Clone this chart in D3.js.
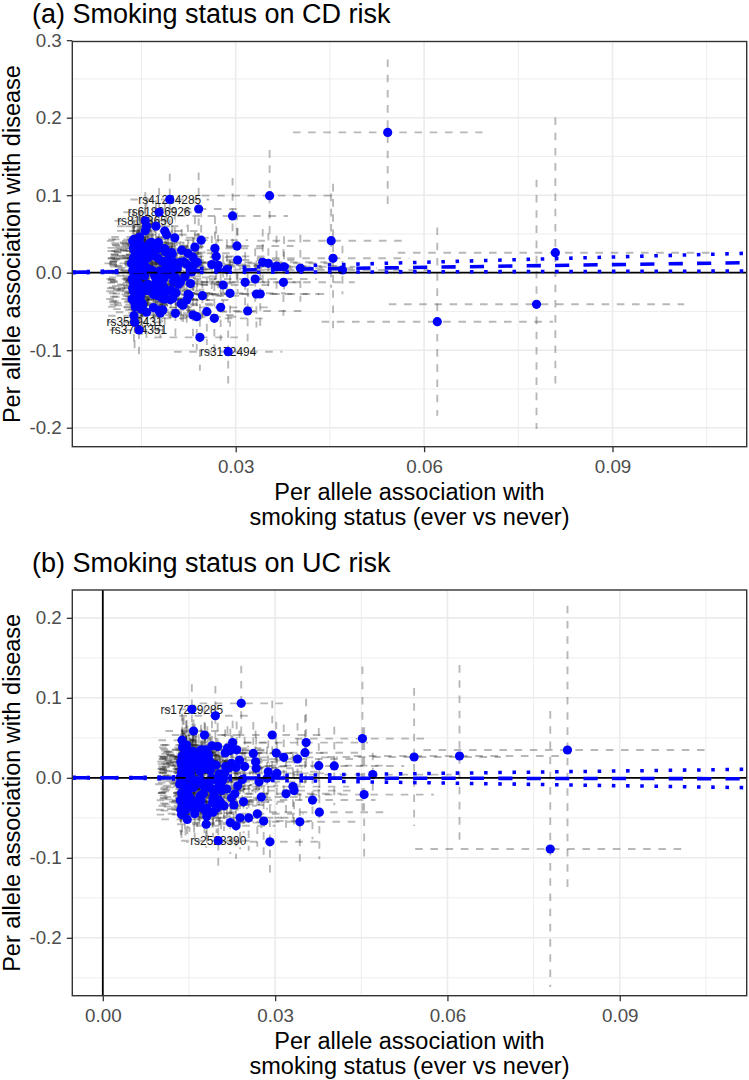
<!DOCTYPE html>
<html><head><meta charset="utf-8">
<script src="https://cdn.jsdelivr.net/npm/d3@7"></script>
<style>
body{margin:0;background:#fff}
svg{display:block}
text{font-family:"Liberation Sans",Arial,Helvetica,sans-serif}
</style>
</head><body>
<svg id="c" width="749" height="1080"></svg>
<script>
// ---------------- data (per-allele associations) ----------------
const smkBeta = [
0.0134,0.0152,0.0171,0.0139,0.0188,0.0145,0.0136,0.0203,0.0160,0.0139,
0.0176,0.0148,0.0141,0.0195,0.0163,0.0137,0.0182,0.0150,0.0214,0.0143,
0.0146,0.0168,0.0142,0.0207,0.0138,0.0185,0.0157,0.0135,0.0222,0.0149,
0.0173,0.0140,0.0192,0.0155,0.0144,0.0200,0.0166,0.0137,0.0179,0.0147,
0.0197,0.0155,0.0151,0.0156,0.0139,0.0162,0.0211,0.0158,0.0143,0.0186,
0.0153,0.0226,0.0136,0.0174,0.0159,0.0145,0.0193,0.0141,0.0217,0.0169,
0.0148,0.0181,0.0138,0.0205,0.0154,0.0143,0.0190,0.0135,0.0230,0.0161,
0.0150,0.0177,0.0140,0.0198,0.0152,0.0142,0.0178,0.0170,0.0137,0.0177,
0.0149,0.0184,0.0144,0.0219,0.0165,0.0139,0.0194,0.0156,0.0228,0.0147,
0.0172,0.0141,0.0213,0.0160,0.0146,0.0195,0.0187,0.0136,0.0201,0.0196,
0.0151,0.0201,0.0143,0.0180,0.0158,0.0224,0.0147,0.0204,0.0140,0.0183,
0.0163,0.0209,0.0145,0.0191,0.0153,0.0216,0.0142,0.0175,0.0232,0.0157,
0.0542,0.0452,0.0455,0.0470,0.0621,0.0779,0.0809,0.0354,0.0295,0.0403,
0.0377,0.0376,0.0365,0.0352,0.0343,0.0339,0.0333,0.0331,0.0319,0.0315,
0.0303,0.0302,0.0291,0.0288,0.0280,0.0276,0.0272,0.0269,0.0267,0.0266,
0.0254,0.0245,0.0247,0.0243,0.0241,0.0239,0.0238,0.0235,0.0232,0.0233,
0.0222,0.0224,0.0204,0.0177,0.0141,0.0138,0.0187,0.0158,0.0146,0.0262,0.0286,
0.0158,0.0183,0.0147,0.0169,0.0192,0.0140,0.0176,0.0161,0.0206,0.0153,
0.0187,0.0144,0.0171,0.0199,0.0150,0.0166,0.0138,0.0181,0.0156,0.0212,
0.0164,0.0145,0.0189,0.0173,0.0137,0.0159,0.0202,0.0149,0.0178,0.0167];

const smkSe = [
0.0022,0.0024,0.0026,0.0021,0.0027,0.0023,0.0022,0.0028,0.0025,0.0022,
0.0025,0.0023,0.0021,0.0027,0.0024,0.0022,0.0026,0.0023,0.0029,0.0022,
0.0024,0.0025,0.0022,0.0028,0.0021,0.0026,0.0024,0.0021,0.0030,0.0023,
0.0025,0.0022,0.0027,0.0023,0.0022,0.0028,0.0024,0.0021,0.0026,0.0023,
0.0027,0.0025,0.0023,0.0025,0.0022,0.0024,0.0029,0.0025,0.0022,0.0026,
0.0023,0.0031,0.0021,0.0025,0.0024,0.0022,0.0027,0.0022,0.0030,0.0024,
0.0023,0.0026,0.0021,0.0028,0.0024,0.0022,0.0027,0.0021,0.0032,0.0024,
0.0023,0.0025,0.0022,0.0028,0.0023,0.0022,0.0029,0.0025,0.0021,0.0029,
0.0023,0.0026,0.0022,0.0030,0.0024,0.0021,0.0027,0.0023,0.0034,0.0023,
0.0025,0.0022,0.0030,0.0024,0.0022,0.0032,0.0026,0.0021,0.0028,0.0032,
0.0023,0.0033,0.0022,0.0026,0.0024,0.0035,0.0023,0.0028,0.0021,0.0026,
0.0024,0.0033,0.0022,0.0027,0.0023,0.0031,0.0022,0.0025,0.0036,0.0023,
0.0077,0.0060,0.0062,0.0070,0.0094,0.0120,0.0128,0.0055,0.0045,0.0062,
0.0058,0.0058,0.0056,0.0054,0.0052,0.0052,0.0051,0.0050,0.0049,0.0048,
0.0046,0.0046,0.0045,0.0044,0.0043,0.0042,0.0042,0.0041,0.0041,0.0041,
0.0039,0.0038,0.0038,0.0037,0.0037,0.0037,0.0036,0.0036,0.0035,0.0036,
0.0034,0.0034,0.0031,0.0027,0.0022,0.0021,0.0029,0.0024,0.0022,0.0040,0.0044,
0.0025,0.0028,0.0023,0.0026,0.0030,0.0022,0.0027,0.0025,0.0032,0.0024,
0.0029,0.0023,0.0026,0.0031,0.0024,0.0026,0.0022,0.0028,0.0024,0.0033,
0.0025,0.0023,0.0029,0.0027,0.0021,0.0025,0.0031,0.0023,0.0027,0.0026];

const cdBeta = [
0.012,-0.021,0.034,-0.006,0.027,-0.041,0.003,0.045,-0.015,-0.064,
0.019,-0.031,0.008,-0.002,0.038,-0.024,0.015,-0.047,0.029,-0.011,
-0.0739,0.022,-0.036,0.005,0.043,-0.018,0.031,-0.008,0.011,-0.027,
0.060,-0.044,0.016,-0.004,0.024,-0.033,0.037,-0.013,0.002,0.046,
-0.022,0.009,-0.039,0.067,0.028,-0.016,0.013,-0.051,0.020,-0.007,
0.033,-0.029,0.041,-0.010,0.006,-0.037,0.025,-0.019,0.014,-0.045,
0.036,-0.003,0.018,-0.026,0.030,-0.012,0.049,-0.034,0.001,0.021,
-0.023,0.039,-0.009,0.026,-0.042,0.010,0.078,-0.017,0.032,-0.030,
0.017,-0.048,0.023,-0.005,0.035,-0.038,0.007,0.054,-0.014,0.028,
-0.025,0.012,-0.040,0.019,-0.001,0.0945,0.031,-0.020,0.004,-0.035,
0.026,-0.011,0.015,-0.052,0.022,-0.028,0.038,-0.006,0.011,-0.033,
0.029,-0.015,0.018,-0.024,0.008,-0.042,0.014,-0.010,0.020,-0.019,
0.181,0.0413,0.0186,0.0035,-0.0632,-0.0408,0.0258,0.0994,0.0732,0.0057,
0.0077,-0.0124,0.0086,0.0121,0.0134,-0.0275,-0.0275,-0.0081,-0.0494,-0.0124,
0.0164,0.0345,-0.0266,-0.1019,-0.0159,-0.0447,0.0095,0.021,0.0315,-0.0589,
-0.0503,0.042,-0.0297,-0.0834,0.0822,0.0135,-0.0568,0.033,-0.0546,0.010,
-0.0352,0.025,-0.0524,-0.0481,-0.0266,-0.0555,0.0538,0.060,0.043,0.0105,0.0040,
0.004,-0.013,0.022,-0.028,0.016,-0.009,0.031,-0.021,0.007,0.027,
-0.034,0.014,-0.004,0.024,-0.017,0.039,0.001,-0.026,0.018,-0.012,
0.029,-0.031,0.009,-0.007,0.019,-0.023,0.013,0.035,-0.015,0.003];

const cdSe = [
0.016,0.018,0.014,0.020,0.015,0.019,0.013,0.017,0.021,0.018,
0.014,0.016,0.019,0.013,0.017,0.020,0.015,0.018,0.014,0.016,
0.019,0.015,0.017,0.013,0.020,0.014,0.016,0.018,0.013,0.019,
0.017,0.015,0.014,0.018,0.021,0.013,0.016,0.019,0.015,0.017,
0.014,0.018,0.016,0.019,0.020,0.015,0.013,0.017,0.018,0.014,
0.016,0.013,0.019,0.015,0.017,0.020,0.014,0.018,0.013,0.016,
0.019,0.015,0.021,0.014,0.017,0.018,0.015,0.020,0.013,0.016,
0.018,0.014,0.019,0.015,0.017,0.020,0.016,0.015,0.018,0.014,
0.016,0.019,0.017,0.013,0.015,0.020,0.014,0.018,0.013,0.017,
0.015,0.019,0.014,0.016,0.018,0.017,0.015,0.020,0.014,0.013,
0.017,0.014,0.019,0.016,0.018,0.013,0.017,0.015,0.020,0.016,
0.018,0.014,0.019,0.015,0.017,0.014,0.020,0.016,0.013,0.018,
0.048,0.031,0.049,0.016,0.062,0.082,0.089,0.030,0.025,0.022,
0.020,0.022,0.020,0.020,0.022,0.024,0.022,0.020,0.025,0.020,
0.021,0.022,0.022,0.024,0.020,0.022,0.020,0.020,0.021,0.023,
0.022,0.020,0.020,0.022,0.024,0.019,0.022,0.020,0.021,0.018,
0.020,0.019,0.020,0.019,0.017,0.018,0.019,0.018,0.017,0.019,0.020,
0.015,0.017,0.014,0.016,0.018,0.015,0.017,0.016,0.019,0.015,
0.018,0.014,0.016,0.019,0.015,0.017,0.014,0.018,0.015,0.019,
0.016,0.014,0.018,0.017,0.013,0.016,0.019,0.015,0.017,0.016];

const ucBeta = [
-0.008,0.017,-0.029,0.024,-0.013,0.036,-0.040,0.005,0.028,-0.019,
0.011,-0.033,0.041,-0.002,0.020,-0.046,0.031,-0.010,0.014,-0.025,
0.009,-0.037,0.026,-0.016,0.047,-0.005,0.018,-0.028,0.034,0.002,
-0.021,0.012,-0.043,0.029,-0.012,0.039,-0.031,0.007,0.022,-0.052,
0.016,0.0856,-0.024,0.033,-0.006,0.025,-0.035,0.0585,-0.014,0.010,
-0.027,0.044,-0.003,0.019,-0.039,0.030,-0.017,0.006,0.037,-0.023,
0.013,-0.048,0.027,-0.009,0.021,-0.032,0.040,0.001,-0.020,0.015,
0.032,-0.011,0.023,-0.038,0.008,-0.026,0.035,-0.004,0.017,0.0535,
-0.015,0.028,-0.041,0.012,-0.007,0.038,-0.022,0.019,-0.034,0.003,
0.026,-0.018,0.031,-0.045,0.014,-0.029,0.009,0.020,-0.012,0.0776,
-0.036,-0.0786,0.024,-0.058,0.016,-0.025,0.034,-0.009,0.011,-0.044,
0.027,-0.003,0.018,-0.031,0.022,-0.014,0.006,-0.020,0.013,0.029,
0.026,0.049,-0.021,0.004,0.0273,-0.089,0.0348,0.044,0.0535,0.0148,
-0.043,0.0152,-0.0278,0.0314,-0.055,0.0235,-0.016,-0.011,-0.020,0.0256,
0.0056,0.031,-0.080,0.0076,-0.054,-0.024,-0.005,-0.045,0.012,0.020,
-0.050,-0.030,0.014,-0.002,0.0931,-0.050,0.022,-0.010,-0.060,0.035,
-0.056,0.018,-0.030,-0.040,0.010,-0.035,0.020,-0.012,0.041,0.0305,-0.0005,
-0.004,0.021,-0.017,0.008,-0.026,0.014,-0.010,0.027,-0.033,0.003,
0.017,-0.022,0.035,-0.014,0.024,-0.006,0.011,-0.038,0.019,0.006,
-0.030,0.026,-0.001,0.015,-0.019,0.032,-0.028,0.009,-0.011,0.023];

const ucSe = [
0.015,0.017,0.013,0.019,0.014,0.018,0.016,0.014,0.020,0.017,
0.013,0.015,0.018,0.016,0.014,0.019,0.017,0.013,0.015,0.018,
0.016,0.014,0.019,0.015,0.017,0.013,0.018,0.020,0.014,0.016,
0.018,0.014,0.016,0.017,0.019,0.015,0.013,0.018,0.016,0.015,
0.017,0.016,0.015,0.018,0.019,0.014,0.016,0.017,0.018,0.013,
0.015,0.014,0.018,0.016,0.019,0.017,0.013,0.016,0.014,0.018,
0.016,0.017,0.019,0.015,0.014,0.018,0.016,0.019,0.014,0.017,
0.015,0.013,0.018,0.016,0.019,0.014,0.017,0.015,0.016,0.018,
0.017,0.015,0.018,0.014,0.016,0.019,0.015,0.017,0.014,0.016,
0.018,0.016,0.015,0.017,0.019,0.014,0.016,0.018,0.015,0.019,
0.016,0.018,0.017,0.015,0.019,0.014,0.016,0.017,0.018,0.015,
0.017,0.015,0.018,0.016,0.014,0.017,0.019,0.015,0.016,0.017,
0.044,0.046,0.043,0.014,0.058,0.088,0.092,0.028,0.022,0.025,
0.030,0.024,0.025,0.024,0.028,0.023,0.022,0.021,0.022,0.021,
0.020,0.020,0.024,0.020,0.022,0.020,0.019,0.021,0.020,0.020,
0.021,0.020,0.019,0.019,0.024,0.020,0.019,0.018,0.021,0.018,
0.020,0.018,0.019,0.019,0.016,0.017,0.018,0.017,0.016,0.020,0.020,
0.015,0.017,0.014,0.016,0.018,0.015,0.017,0.016,0.018,0.015,
0.017,0.014,0.016,0.018,0.015,0.016,0.014,0.017,0.015,0.018,
0.016,0.014,0.017,0.016,0.013,0.015,0.018,0.014,0.016,0.016];

// labelled variants (index into the arrays above)
const cdLabelIdx  = [95, 76, 43, 9, 20, 143];
const cdLabelText = ["rs41264285","rs61826926","rs8103650","rs3509431","rs3764351","rs3172494"];
const ucLabelIdx  = [41, 101];
const ucLabelText = ["rs17229285","rs2523390"];

// IVW estimate and 95% CI (slopes): [CD, UC]
const ivwEst = [0.116, -0.010];
const ivwLo  = [0.019, -0.110];
const ivwHi  = [0.225, 0.095];

const panelTitles = ["(a) Smoking status on CD risk", "(b) Smoking status on UC risk"];
const yTicksA = [-0.2,-0.1,0.0,0.1,0.2,0.3];
const yTicksB = [-0.2,-0.1,0.0,0.1,0.2];
const xTicksA = [0.03,0.06,0.09];
const xTicksB = [0.00,0.03,0.06,0.09];

// ---------------- drawing ----------------
const svg = d3.select("#c");
const L = 72.3, R = 746.7;
const FONT_BASE = 23.5, FONT_TICK = 18.8, FONT_TITLE = 27, FONT_LAB = 11.9;

const panels = [
  {title: panelTitles[0], top: 41.5, bottom: 446.7, xdom: [0.00398, 0.11137], ydom: [-0.2245, 0.2983],
   yv: cdBeta, ys: cdSe, yTicks: yTicksA, xTicks: xTicksA, labIdx: cdLabelIdx, labTxt: cdLabelText, vline: false, k: 0},
  {title: panelTitles[1], top: 590, bottom: 995.7, xdom: [-0.00531, 0.1121], ydom: [-0.2724, 0.2348],
   yv: ucBeta, ys: ucSe, yTicks: yTicksB, xTicks: xTicksB, labIdx: ucLabelIdx, labTxt: ucLabelText, vline: true, k: 1}
];

panels.forEach((p, pi) => {
  const x = d3.scaleLinear().domain(p.xdom).range([L, R]);
  const y = d3.scaleLinear().domain(p.ydom).range([p.bottom, p.top]);
  const g = svg.append("g");

  const yMaj = d3.range(-0.3, 0.31, 0.1).map(v => +v.toFixed(2)).filter(v => v >= p.ydom[0] && v <= p.ydom[1]);
  const yMin = d3.range(-0.25, 0.3, 0.1).map(v => +v.toFixed(2)).filter(v => v >= p.ydom[0] && v <= p.ydom[1]);
  const xMaj = [0, 0.03, 0.06, 0.09].filter(v => v >= p.xdom[0] && v <= p.xdom[1]);
  const xMin = [0.015, 0.045, 0.075, 0.105].filter(v => v >= p.xdom[0] && v <= p.xdom[1]);
  const grid = g.append("g").attr("stroke", "#ebebeb");
  grid.selectAll(".ymin").data(yMin).join("line").attr("x1", L).attr("x2", R)
    .attr("y1", d => y(d)).attr("y2", d => y(d)).attr("stroke-width", 0.9);
  grid.selectAll(".xmin").data(xMin).join("line").attr("y1", p.top).attr("y2", p.bottom)
    .attr("x1", d => x(d)).attr("x2", d => x(d)).attr("stroke-width", 0.9);
  grid.selectAll(".ymaj").data(yMaj).join("line").attr("x1", L).attr("x2", R)
    .attr("y1", d => y(d)).attr("y2", d => y(d)).attr("stroke-width", 1.6);
  grid.selectAll(".xmaj").data(xMaj).join("line").attr("y1", p.top).attr("y2", p.bottom)
    .attr("x1", d => x(d)).attr("x2", d => x(d)).attr("stroke-width", 1.6);

  svg.append("clipPath").attr("id", "clip" + pi).append("rect")
    .attr("x", L).attr("y", p.top).attr("width", R - L).attr("height", p.bottom - p.top);
  const plot = g.append("g").attr("clip-path", `url(#clip${pi})`);

  const idx = d3.range(smkBeta.length);
  const bars = plot.append("g").attr("stroke", "#000").attr("stroke-opacity", 0.28)
    .attr("stroke-width", 1.9).attr("stroke-dasharray", "7.6,7.6").attr("fill", "none");
  bars.selectAll(".h").data(idx).join("line")
    .attr("x1", i => x(smkBeta[i] - 1.96 * smkSe[i])).attr("x2", i => x(smkBeta[i] + 1.96 * smkSe[i]))
    .attr("y1", i => y(p.yv[i])).attr("y2", i => y(p.yv[i]));
  bars.selectAll(".v").data(idx).join("line")
    .attr("x1", i => x(smkBeta[i])).attr("x2", i => x(smkBeta[i]))
    .attr("y1", i => y(p.yv[i] + 1.96 * p.ys[i])).attr("y2", i => y(p.yv[i] - 1.96 * p.ys[i]));

  plot.append("g").selectAll("text").data(p.labIdx).join("text")
    .attr("x", i => x(smkBeta[i])).attr("y", i => y(p.yv[i])).attr("dy", "0.35em")
    .attr("text-anchor", "middle").attr("font-size", FONT_LAB).attr("fill", "#1a1a1a")
    .text((i, j) => p.labTxt[j]);

  plot.append("g").selectAll("circle").data(idx).join("circle")
    .attr("cx", i => x(smkBeta[i])).attr("cy", i => y(p.yv[i])).attr("r", 4.6).attr("fill", "#0000ff");

  plot.append("line").attr("x1", L).attr("x2", R).attr("y1", y(0)).attr("y2", y(0))
    .attr("stroke", "#000").attr("stroke-width", 1.8);
  if (p.vline) plot.append("line").attr("x1", x(0)).attr("x2", x(0)).attr("y1", p.top).attr("y2", p.bottom)
    .attr("stroke", "#000").attr("stroke-width", 1.8);

  const lineSpec = [
    {s: ivwEst[p.k], dash: "14.2,14.2"},
    {s: ivwLo[p.k], dash: "3.55,10.65"},
    {s: ivwHi[p.k], dash: "3.55,10.65"}];
  plot.append("g").selectAll("line").data(lineSpec).join("line")
    .attr("x1", x(p.xdom[0])).attr("x2", x(p.xdom[1]))
    .attr("y1", d => y(d.s * p.xdom[0])).attr("y2", d => y(d.s * p.xdom[1]))
    .attr("stroke", "#0000ff").attr("stroke-width", 3.55).attr("stroke-dasharray", d => d.dash);

  g.append("rect").attr("x", L).attr("y", p.top).attr("width", R - L).attr("height", p.bottom - p.top)
    .attr("fill", "none").attr("stroke", "#333333").attr("stroke-width", 1.4);

  const ax = g.append("g").attr("transform", `translate(${L},0)`)
    .call(d3.axisLeft(y).tickValues(p.yTicks).tickFormat(d => d.toFixed(1)).tickSize(5.5).tickPadding(5));
  const bx = g.append("g").attr("transform", `translate(0,${p.bottom})`)
    .call(d3.axisBottom(x).tickValues(p.xTicks).tickFormat(d => d.toFixed(2)).tickSize(5.5).tickPadding(7));
  [ax, bx].forEach(a => {
    a.select(".domain").remove();
    a.attr("font-family", null).attr("font-size", null);
    a.selectAll("line").attr("stroke", "#333333").attr("stroke-width", 1.3);
    a.selectAll("text").attr("fill", "#4d4d4d").attr("font-size", FONT_TICK);
  });

  const cy = (p.top + p.bottom) / 2;
  g.append("text").attr("transform", `translate(20,${cy}) rotate(-90)`).attr("text-anchor", "middle")
    .attr("font-size", FONT_BASE).attr("fill", "#000").text("Per allele association with disease");
  const xt = g.append("text").attr("text-anchor", "middle").attr("font-size", FONT_BASE).attr("fill", "#000");
  xt.append("tspan").attr("x", (L + R) / 2).attr("y", p.bottom + 53.3).text("Per allele association with");
  xt.append("tspan").attr("x", (L + R) / 2).attr("y", p.bottom + 78.3).text("smoking status (ever vs never)");

  g.append("text").attr("x", 32).attr("y", p.top - 18.2).attr("font-size", FONT_TITLE).attr("fill", "#000").text(p.title);
});
</script>
</body></html>
